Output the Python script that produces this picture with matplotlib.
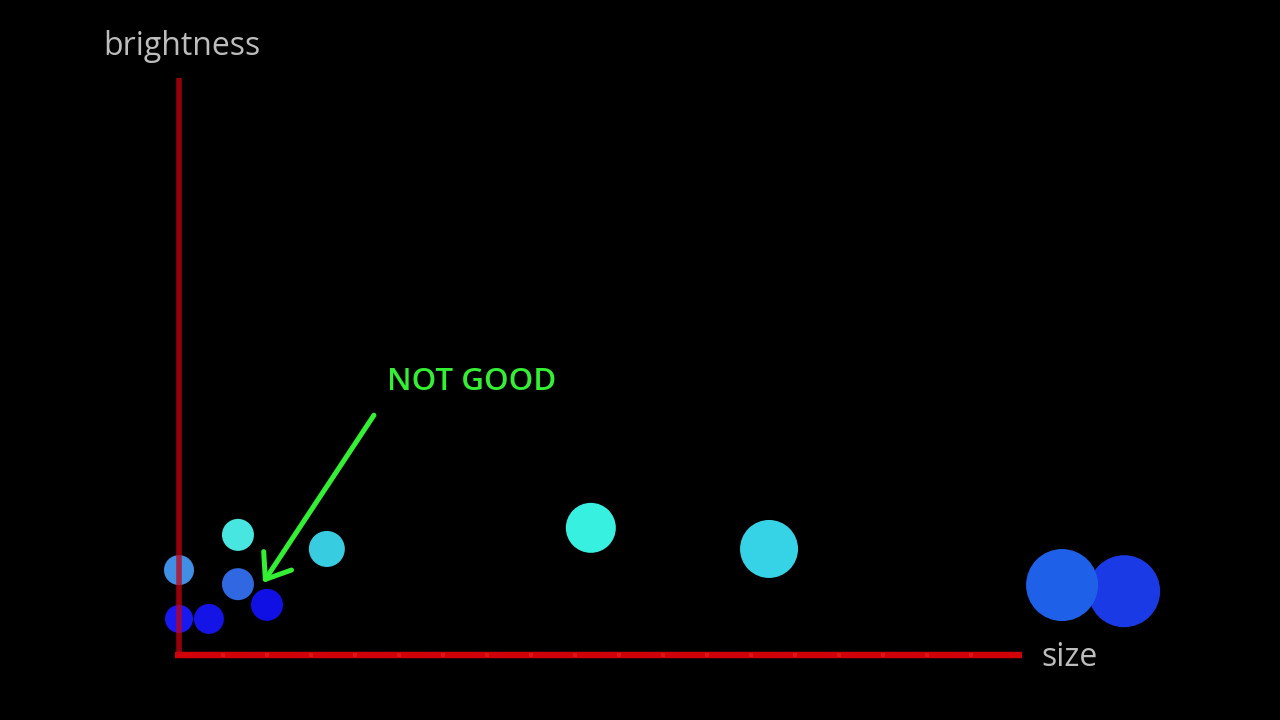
import matplotlib
matplotlib.use("Agg")
import matplotlib.pyplot as plt
import numpy as np

# data (size vs brightness), units on the drawn axes
size = [21.48, 20.07, 0.0, 0.0, 0.68, 1.34, 1.34, 2.0, 3.36, 9.36, 13.41]
brightness = [1.45, 1.59, 1.93, 0.82, 0.82, 2.73, 1.61, 1.14, 2.41, 2.89, 2.41]
radius = [36, 36, 15, 14, 15, 16, 16, 16, 18, 25, 29]
colors = ["#1a3ae6", "#1f60e8", "#3f8fe6", "#1818f0", "#1414e6", "#48e6e0",
          "#2f68e0", "#1010e4", "#38cce0", "#38f0e0", "#36d2e6"]

x_max = 19.16
y_max = 13.11

fig = plt.figure(figsize=(12.8, 7.2), dpi=100, facecolor="black")
ax = fig.add_axes([0, 0, 1, 1])
ax.set_facecolor("black")
ax.set_xlim(-179 / 44, (1280 - 179) / 44)
ax.set_ylim(-65 / 44, 655 / 44)
ax.axis("off")

s = [(2 * r * 0.72) ** 2 for r in radius]
ax.scatter(size, brightness, s=s, c=colors, edgecolors="none", zorder=3)

# axes lines
ax.plot([-0.1, x_max], [0, 0], color="#d00008", lw=4.6, zorder=2, solid_capstyle="butt")
ax.plot([0, 0], [0, y_max], color="#c80010", lw=4.0, alpha=0.75, zorder=4, solid_capstyle="butt")
ticks = np.arange(1, 19)
ax.scatter(ticks, np.zeros_like(ticks), marker="s", s=8, color="#dc1414", zorder=2.5, edgecolors="none")

ax.text(0.07, 13.84, "brightness", color="#bdbdbd", fontsize=23, family="Open Sans",
        ha="center", va="center")
ax.text(19.6, -0.05, "size", color="#bdbdbd", fontsize=23, family="Open Sans",
        ha="left", va="center")
ax.text(4.73, 6.2, "NOT GOOD", color="#33f033", fontsize=22.5, family="Open Sans",
        weight="semibold", ha="left", va="center")

ax.annotate("", xy=(1.91, 1.64), xytext=(4.43, 5.45),
            arrowprops=dict(arrowstyle="->,head_length=1.6,head_width=1.2", color="#33f033",
                            lw=3.6, shrinkA=0, shrinkB=0, capstyle="round"),
            zorder=5)

fig.savefig("out.png", dpi=100, facecolor="black")
